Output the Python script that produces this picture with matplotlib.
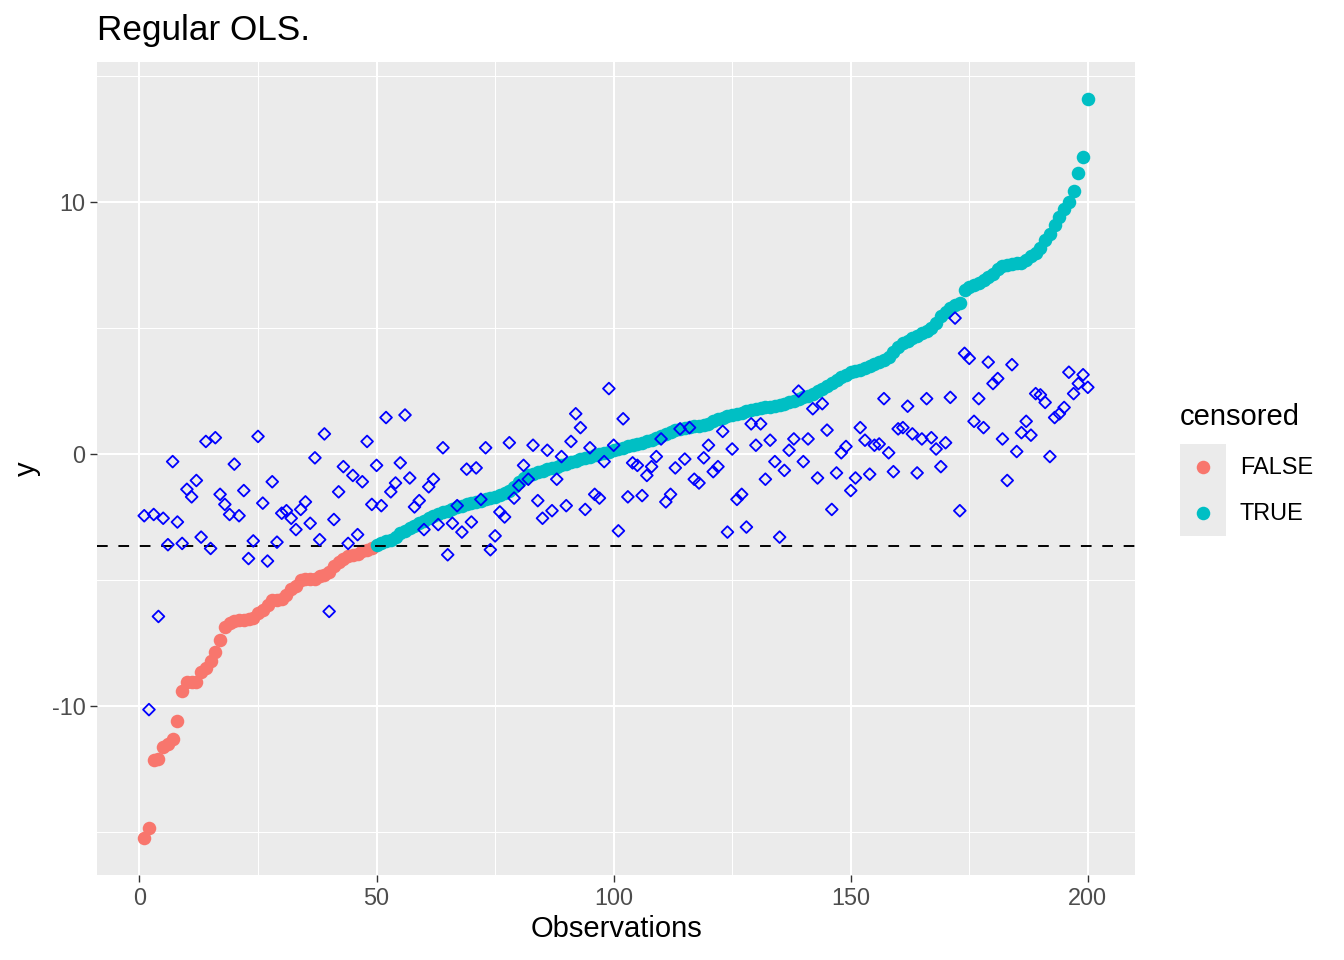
import numpy as np
import matplotlib.pyplot as plt

plt.rcParams['font.family'] = ['Liberation Sans', 'DejaVu Sans']
plt.rcParams['axes.unicode_minus'] = False

# sorted observed y (obs 1..200)
y_sorted = [
    -15.25, -14.85, -12.15, -12.1, -11.65, -11.5, -11.3, -10.6, -9.4, -9.05,
    -9.05, -9.05, -8.65, -8.5, -8.2, -7.85, -7.4, -6.85, -6.7, -6.65,
    -6.6, -6.6, -6.55, -6.5, -6.3, -6.2, -6.0, -5.8, -5.8, -5.75,
    -5.6, -5.35, -5.25, -5.0, -4.95, -4.95, -4.95, -4.85, -4.8, -4.7,
    -4.45, -4.3, -4.15, -4.05, -4.0, -3.95, -3.85, -3.8, -3.72, -3.6,
    -3.52, -3.45, -3.4, -3.3, -3.15, -3.05, -2.95, -2.85, -2.75, -2.65,
    -2.55, -2.48, -2.4, -2.32, -2.25, -2.18, -2.12, -2.05, -2.0, -1.95,
    -1.9, -1.85, -1.8, -1.75, -1.7, -1.62, -1.55, -1.45, -1.3, -1.1,
    -0.95, -0.85, -0.78, -0.72, -0.66, -0.6, -0.55, -0.5, -0.45, -0.38,
    -0.32, -0.26, -0.2, -0.15, -0.1, -0.05, 0.0, 0.05, 0.1, 0.15,
    0.2, 0.25, 0.3, 0.35, 0.4, 0.45, 0.5, 0.55, 0.62, 0.7,
    0.8, 0.88, 0.95, 1.0, 1.05, 1.08, 1.1, 1.12, 1.15, 1.2,
    1.3, 1.38, 1.45, 1.5, 1.55, 1.6, 1.65, 1.7, 1.75, 1.78,
    1.82, 1.85, 1.88, 1.9, 1.95, 2.0, 2.05, 2.1, 2.18, 2.25,
    2.32, 2.4, 2.5, 2.6, 2.7, 2.82, 2.95, 3.05, 3.15, 3.25,
    3.3, 3.35, 3.42, 3.5, 3.58, 3.65, 3.72, 3.85, 4.05, 4.25,
    4.4, 4.5, 4.6, 4.7, 4.8, 4.9, 5.0, 5.2, 5.5, 5.65,
    5.8, 5.9, 5.98, 6.5, 6.65, 6.72, 6.8, 6.9, 7.05, 7.15,
    7.35, 7.45, 7.52, 7.55, 7.58, 7.6, 7.7, 7.85, 8.0, 8.2,
    8.5, 8.75, 9.1, 9.4, 9.75, 10.0, 10.45, 11.15, 11.8, 14.1,
]

# OLS fitted values (open diamonds)
y_fit = [
    -2.45, -10.15, -2.4, -6.45, -2.55, -3.6, -0.3, -2.7, -3.55, -1.4,
    -1.7, -1.05, -3.3, 0.5, -3.75, 0.65, -1.6, -2.0, -2.4, -0.4,
    -2.45, -1.45, -4.15, -3.45, 0.7, -1.95, -4.25, -1.1, -3.5, -2.35,
    -2.25, -2.55, -3.0, -2.2, -1.9, -2.75, -0.15, -3.4, 0.8, -6.25,
    -2.6, -1.5, -0.5, -3.55, -0.85, -3.2, -1.1, 0.5, -2.0, -0.45,
    -2.05, 1.45, -1.5, -1.15, -0.35, 1.55, -0.95, -2.1, -1.85, -3.0,
    -1.3, -1.0, -2.8, 0.25, -4.0, -2.75, -2.05, -3.1, -0.6, -2.7,
    -0.55, -1.8, 0.25, -3.8, -3.25, -2.3, -2.5, 0.45, -1.75, -1.25,
    -0.45, -1.0, 0.35, -1.85, -2.55, 0.15, -2.25, -1.0, -0.1, -2.05,
    0.5, 1.6, 1.05, -2.2, 0.25, -1.6, -1.75, -0.3, 2.6, 0.35,
    -3.05, 1.4, -1.7, -0.35, -0.45, -1.65, -0.85, -0.5, -0.1, 0.6,
    -1.9, -1.6, -0.55, 1.0, -0.2, 1.05, -1.0, -1.15, -0.15, 0.35,
    -0.7, -0.5, 0.9, -3.1, 0.2, -1.8, -1.6, -2.9, 1.2, 0.35,
    1.2, -1.0, 0.55, -0.3, -3.3, -0.65, 0.15, 0.6, 2.5, -0.3,
    0.6, 1.8, -0.95, 2.0, 0.95, -2.2, -0.75, 0.05, 0.3, -1.45,
    -0.95, 1.05, 0.55, -0.8, 0.35, 0.4, 2.2, 0.05, -0.7, 1.0,
    1.05, 1.9, 0.8, -0.75, 0.6, 2.2, 0.65, 0.2, -0.5, 0.45,
    2.25, 5.4, -2.25, 4.0, 3.8, 1.3, 2.2, 1.05, 3.65, 2.8,
    3.0, 0.6, -1.05, 3.55, 0.1, 0.85, 1.3, 0.75, 2.4, 2.35,
    2.05, -0.1, 1.45, 1.6, 1.85, 3.25, 2.4, 2.8, 3.15, 2.65,
]

threshold = -3.64
obs = np.arange(1, len(y_sorted) + 1)
y_sorted = np.array(y_sorted)
censored = y_sorted > threshold

red, teal = "#F8766D", "#00BFC4"

fig = plt.figure(figsize=(13.44, 9.6), dpi=100)
ax = fig.add_axes([0.0722, 0.0885, 0.7723, 0.8469])
ax.set_facecolor("#EBEBEB")
for s in ax.spines.values():
    s.set_visible(False)

ax.set_xlim(-8.95, 209.95)
ax.set_ylim(-16.72, 15.57)
ax.set_xticks([0, 50, 100, 150, 200])
ax.set_yticks([-10, 0, 10])
ax.set_xticks([25, 75, 125, 175], minor=True)
ax.set_yticks([-15, -5, 5, 15], minor=True)
ax.grid(True, which="major", color="white", lw=1.5)
ax.grid(True, which="minor", color="white", lw=0.75)
ax.set_axisbelow(True)
ax.tick_params(which="major", length=5.3, width=1.0, color="#333333",
               labelsize=16.9, labelcolor="#4D4D4D", pad=3)
ax.tick_params(which="minor", length=0)

ax.scatter(obs[~censored], y_sorted[~censored], s=95, color=red, lw=0, zorder=2)
ax.scatter(obs[censored], y_sorted[censored], s=95, color=teal, lw=0, zorder=2)
ax.axhline(threshold, color="black", lw=1.4, ls=(0, (5.5, 5.5)), zorder=3)
ax.scatter(obs, y_fit, s=36, marker="D", facecolors="none", edgecolors="blue",
           lw=1.3, zorder=4)

ax.set_xlabel("Observations", fontsize=21, labelpad=4)
ax.set_ylabel("y", fontsize=21, labelpad=8)
fig.text(0.0722, 0.968, "Regular OLS.", fontsize=25.3, ha="left", va="center")

# legend, ggplot style
lax = fig.add_axes([0.878, 0.4417, 0.0342, 0.0958])
lax.set_facecolor("#EBEBEB")
lax.set_xlim(0, 1)
lax.set_ylim(0, 1)
lax.set_xticks([])
lax.set_yticks([])
for s in lax.spines.values():
    s.set_visible(False)
lax.scatter([0.5], [0.75], s=95, color=red, lw=0)
lax.scatter([0.5], [0.25], s=95, color=teal, lw=0)
fig.text(0.878, 0.5656, "censored", fontsize=21, ha="left", va="center")
fig.text(0.9226, 0.5135, "FALSE", fontsize=16.9, ha="left", va="center")
fig.text(0.9226, 0.4656, "TRUE", fontsize=16.9, ha="left", va="center")

fig.savefig("out.png", dpi=100)
